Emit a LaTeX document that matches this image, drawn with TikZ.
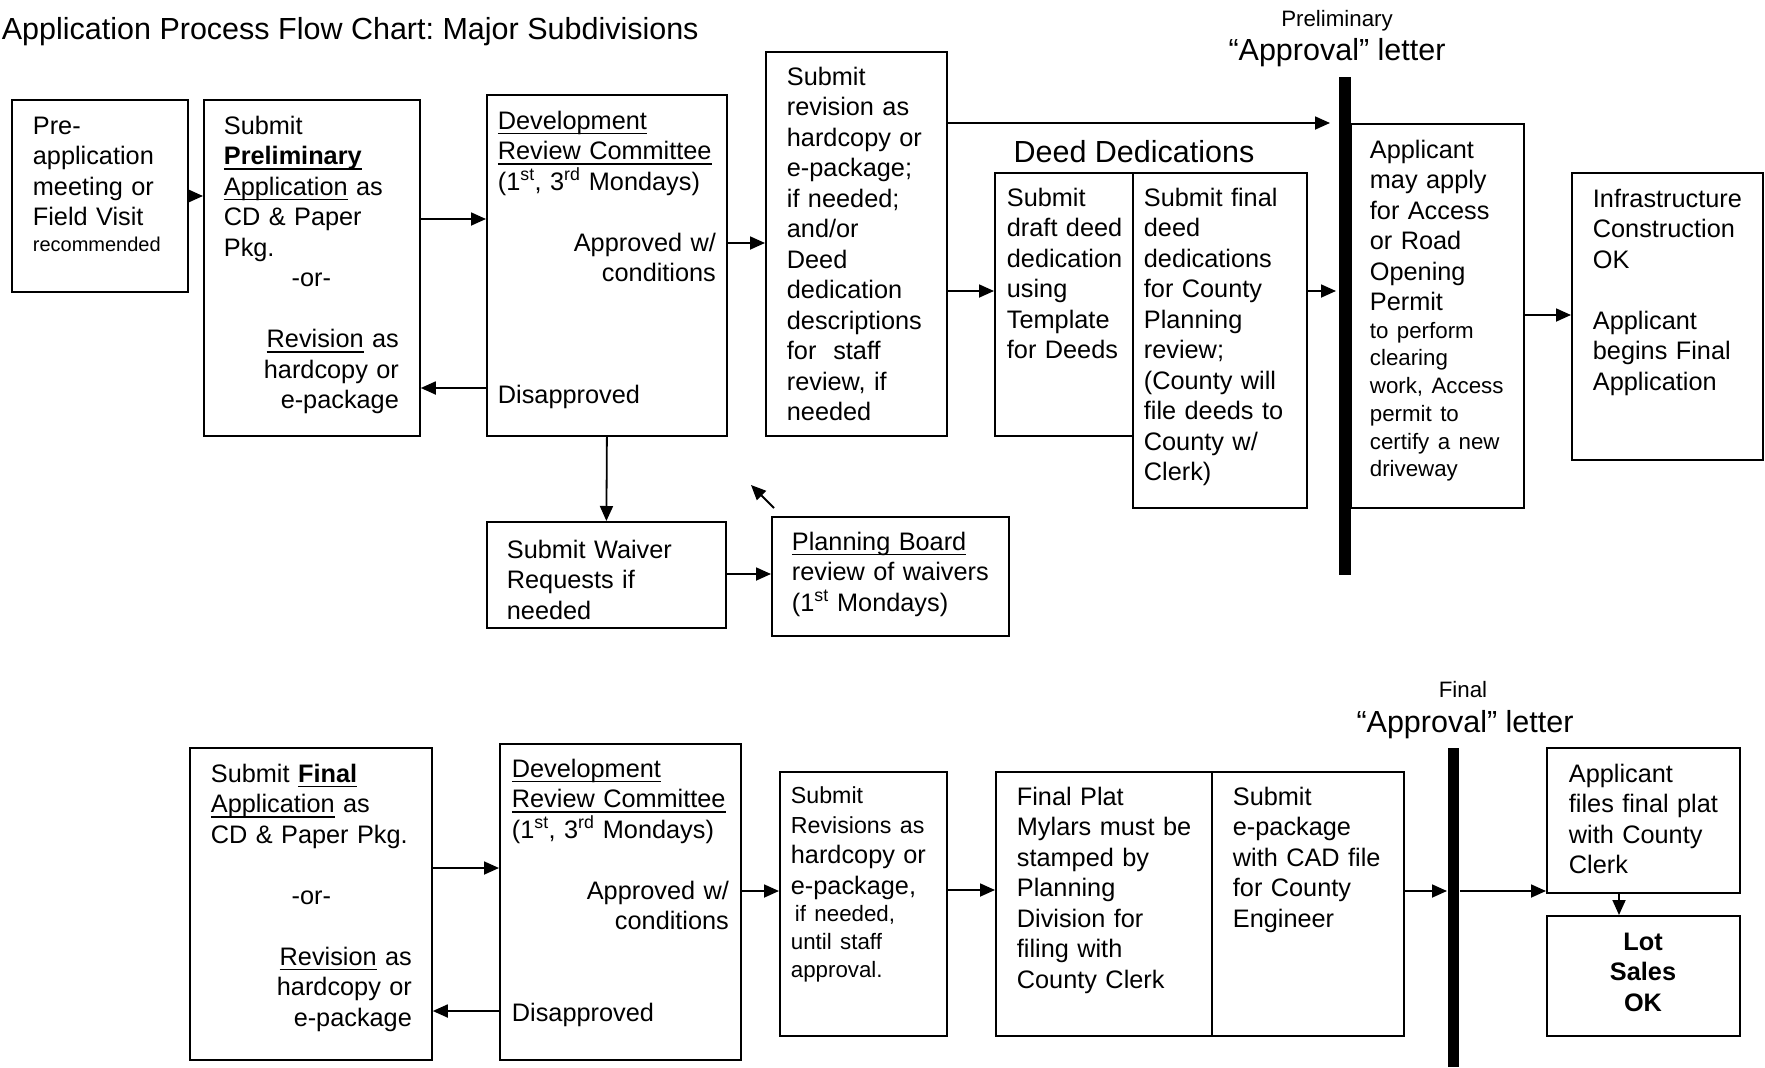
\documentclass[tikz,border=0pt]{standalone}
\usepackage{fontspec}
\setmainfont{Liberation Sans}
\usetikzlibrary{arrows.meta}
\frenchspacing
\newsavebox{\ulbox}
\newcommand{\undl}[1]{\leavevmode\sbox{\ulbox}{#1}\rlap{\rule[-5.3pt]{\wd\ulbox}{1.6pt}}\usebox{\ulbox}}
\newcommand{\bodysize}{\fontsize{25.3}{30.5}\selectfont}
\newcommand{\smallsize}{\fontsize{22.3}{27.7}\selectfont}
\newcommand{\tinysize}{\fontsize{20}{24}\selectfont}
\newcommand{\headsize}{\fontsize{30.5}{36}\selectfont}

\begin{document}
\begin{tikzpicture}[x=1pt,y=-1pt,
  font=\bodysize,
  line width=1.8pt,
  box/.style={draw,inner sep=0pt,anchor=north west},
  bar/.style={fill=black,inner sep=0pt,anchor=north west},
  txt/.style={inner sep=0pt,anchor=base west,align=left,text width=#1},
  head/.style={inner sep=0pt,anchor=base},
  >={Triangle[length=15pt,width=13pt]}]
  \useasboundingbox (0,0) rectangle (1765,1068);

  % headings
  \node[head,anchor=base west,font=\headsize] (title) at (1,39) {Application Process Flow Chart: Major Subdivisions};
  \node[head,font=\headsize] (deedhd) at (1134,162) {Deed Dedications};
  \node[head,font=\smallsize] (prelim) at (1337,26) {Preliminary};
  \node[head,font=\headsize] (prelimlt) at (1337,60) {“Approval” letter};
  \node[head,font=\smallsize] (final) at (1463,697) {Final};
  \node[head,font=\headsize] (finallt) at (1465,732) {“Approval” letter};

  % preliminary row
  \node[box,minimum width=176pt,minimum height=192pt] (pre) at (11,99) {};
  \node[box,minimum width=216pt,minimum height=336pt] (sub) at (203,99) {};
  \node[box,minimum width=240pt,minimum height=341pt] (drc) at (486,94) {};
  \node[box,minimum width=181pt,minimum height=384pt] (rev) at (765,51) {};
  \node[box,minimum width=138pt,minimum height=263pt] (deedL) at (994,172) {};
  \node[box,minimum width=174pt,minimum height=335pt] (deedR) at (1132,172) {};
  \node[bar,minimum width=12pt,minimum height=498pt] (bar1) at (1338,76) {};
  \node[box,minimum width=173pt,minimum height=384pt] (perm) at (1350,123) {};
  \node[box,minimum width=191pt,minimum height=287pt] (infra) at (1571,172) {};
  \node[box,minimum width=239pt,minimum height=106pt] (waiv) at (486,521) {};
  \node[box,minimum width=237pt,minimum height=119pt] (pb) at (771,516) {};

  \node[txt=150pt] (pre-t) at (32,134) {Pre-\\ application\\ meeting or\\ Field Visit\\[-4.5pt] {\tinysize recommended}};
  \node[txt=175pt] (sub-t) at (223,134) {Submit\\ \textbf{\undl{Preliminary}}\\ \undl{Application} as\\ CD \& Paper\\ Pkg.\par
    {\centering -or-\par}\mbox{}\par
    {\raggedleft \undl{Revision} as\\ hardcopy or\\ e-package\par}};
  \node[txt=218pt] (drc-t) at (497,129) {\undl{Development}\\ \undl{Review Committee}\\ (1\textsuperscript{st}, 3\textsuperscript{rd} Mondays)\\ \mbox{}\par
    {\raggedleft Approved w/\\ conditions\par}\mbox{}\\ \mbox{}\\ \mbox{}\\ Disapproved};
  \node[txt=155pt] (rev-t) at (786,85) {Submit\\ revision as\\ hardcopy or\\ e-package;\\ if needed;\\ and/or\\ Deed\\ dedication\\ descriptions\\ for\ \ staff\\ review, if\\ needed};
  \node[txt=125pt] (deedL-t) at (1006,206) {Submit\\ draft deed\\ dedication\\ using\\ Template\\ for Deeds};
  \node[txt=160pt] (deedR-t) at (1143,206) {Submit final\\ deed\\ dedications\\ for County\\ Planning\\ review;\\ (County will\\ file deeds to\\ County w/\\ Clerk)};
  \node[txt=150pt] (perm-t) at (1369,158) {Applicant\\ may apply\\ for Access\\ or Road\\ Opening\\ Permit\par
    {\smallsize to perform\\ clearing\\ work, Access\\ permit to\\ certify a new\\ driveway\par}};
  \node[txt=165pt] (infra-t) at (1592,207) {Infrastructure\\ Construction\\ OK\\ \mbox{}\\ Applicant\\ begins Final\\ Application};
  \begin{scope}
    \clip (waiv.north west) rectangle ([yshift=9pt]waiv.south east);
    \node[txt=200pt] (waiv-t) at (506,558) {Submit Waiver\\ Requests if\\ needed};
  \end{scope}
  \node[txt=200pt] (pb-t) at (791,550) {\undl{Planning Board}\\ review of waivers\\ (1\textsuperscript{st} Mondays)};

  \draw[->] (pre.east |- 0,196) -- (sub.west |- 0,196);
  \draw[->] (sub.east |- 0,219) -- (drc.west |- 0,219);
  \draw[->] (drc.west |- 0,388) -- (sub.east |- 0,388);
  \draw[->] (drc.east |- 0,243) -- (rev.west |- 0,243);
  \draw[->,shorten >=8pt] (rev.east |- 0,123) -- (bar1.west |- 0,123);
  \draw[->] (rev.east |- 0,291) -- (deedL.west |- 0,291);
  \draw[->,shorten >=2pt] (deedR.east |- 0,291) -- (bar1.west |- 0,291);
  \draw[->] (perm.east |- 0,315) -- (infra.west |- 0,315);
  \draw[->] (drc.south) -- (waiv.north);
  \draw[->] (waiv.east |- 0,574) -- (pb.west |- 0,574);
  % loose return arrow
  \coordinate (pbret) at ([shift={(3,-8)}]pb.north west);
  \coordinate (pbback) at (751,485);
  \draw[->] (pbret) -- (pbback);

  % final row
  \node[box,minimum width=242pt,minimum height=312pt] (fin) at (189,747) {};
  \node[box,minimum width=241pt,minimum height=316pt] (drc2) at (499,743) {};
  \node[box,minimum width=167pt,minimum height=264pt] (revs) at (779,771) {};
  \node[box,minimum width=216pt,minimum height=264pt] (platL) at (995,771) {};
  \node[box,minimum width=192pt,minimum height=264pt] (platR) at (1211,771) {};
  \node[bar,minimum width=11pt,minimum height=319pt] (bar2) at (1447,747) {};
  \node[box,minimum width=193pt,minimum height=145pt] (files) at (1546,747) {};
  \node[box,minimum width=193pt,minimum height=120pt] (lot) at (1546,915) {};

  \node[txt=201pt] (fin-t) at (210,782) {Submit \textbf{\undl{Final}}\\ \undl{Application} as\\ CD \& Paper Pkg.\\ \mbox{}\par
    {\centering -or-\par}\mbox{}\par
    {\raggedleft \undl{Revision} as\\ hardcopy or\\ e-package\par}};
  \node[txt=217pt] (drc2-t) at (511,777) {\undl{Development}\\ \undl{Review Committee}\\ (1\textsuperscript{st}, 3\textsuperscript{rd} Mondays)\\ \mbox{}\par
    {\raggedleft Approved w/\\ conditions\par}\mbox{}\\ \mbox{}\\ Disapproved};
  \node[txt=150pt] (revs-t) at (790,803) {{\fontsize{23.2}{30}\selectfont Submit\\ Revisions as\par}
    hardcopy or\\ e-package,\par
    {\smallsize\hspace*{4pt}if needed,\\ until staff\\ approval.\par}};
  \node[txt=185pt] (platL-t) at (1016,805) {Final Plat\\ Mylars must be\\ stamped by\\ Planning\\ Division for\\ filing with\\ County Clerk};
  \node[txt=165pt] (platR-t) at (1232,805) {Submit\\ e-package\\ with CAD file\\ for County\\ Engineer};
  \node[txt=160pt] (files-t) at (1568,782) {Applicant\\ files final plat\\ with County\\ Clerk};
  \node[txt=150pt,anchor=base,align=center,font=\bodysize\bfseries] (lot-t) at (1643,950) {Lot\\ Sales\\ OK};

  \draw[->] (fin.east |- 0,868) -- (drc2.west |- 0,868);
  \draw[->] (drc2.west |- 0,1011) -- (fin.east |- 0,1011);
  \draw[->] (drc2.east |- 0,891) -- (revs.west |- 0,891);
  \draw[->] (revs.east |- 0,890) -- (platL.west |- 0,890);
  \draw[->] (platR.east |- 0,891) -- (bar2.west |- 0,891);
  \draw[->] (bar2.east |- 0,891) -- (files.west |- 0,891);
  \draw[->] (files.south -| 1619,0) -- (lot.north -| 1619,0);
\end{tikzpicture}
\end{document}
